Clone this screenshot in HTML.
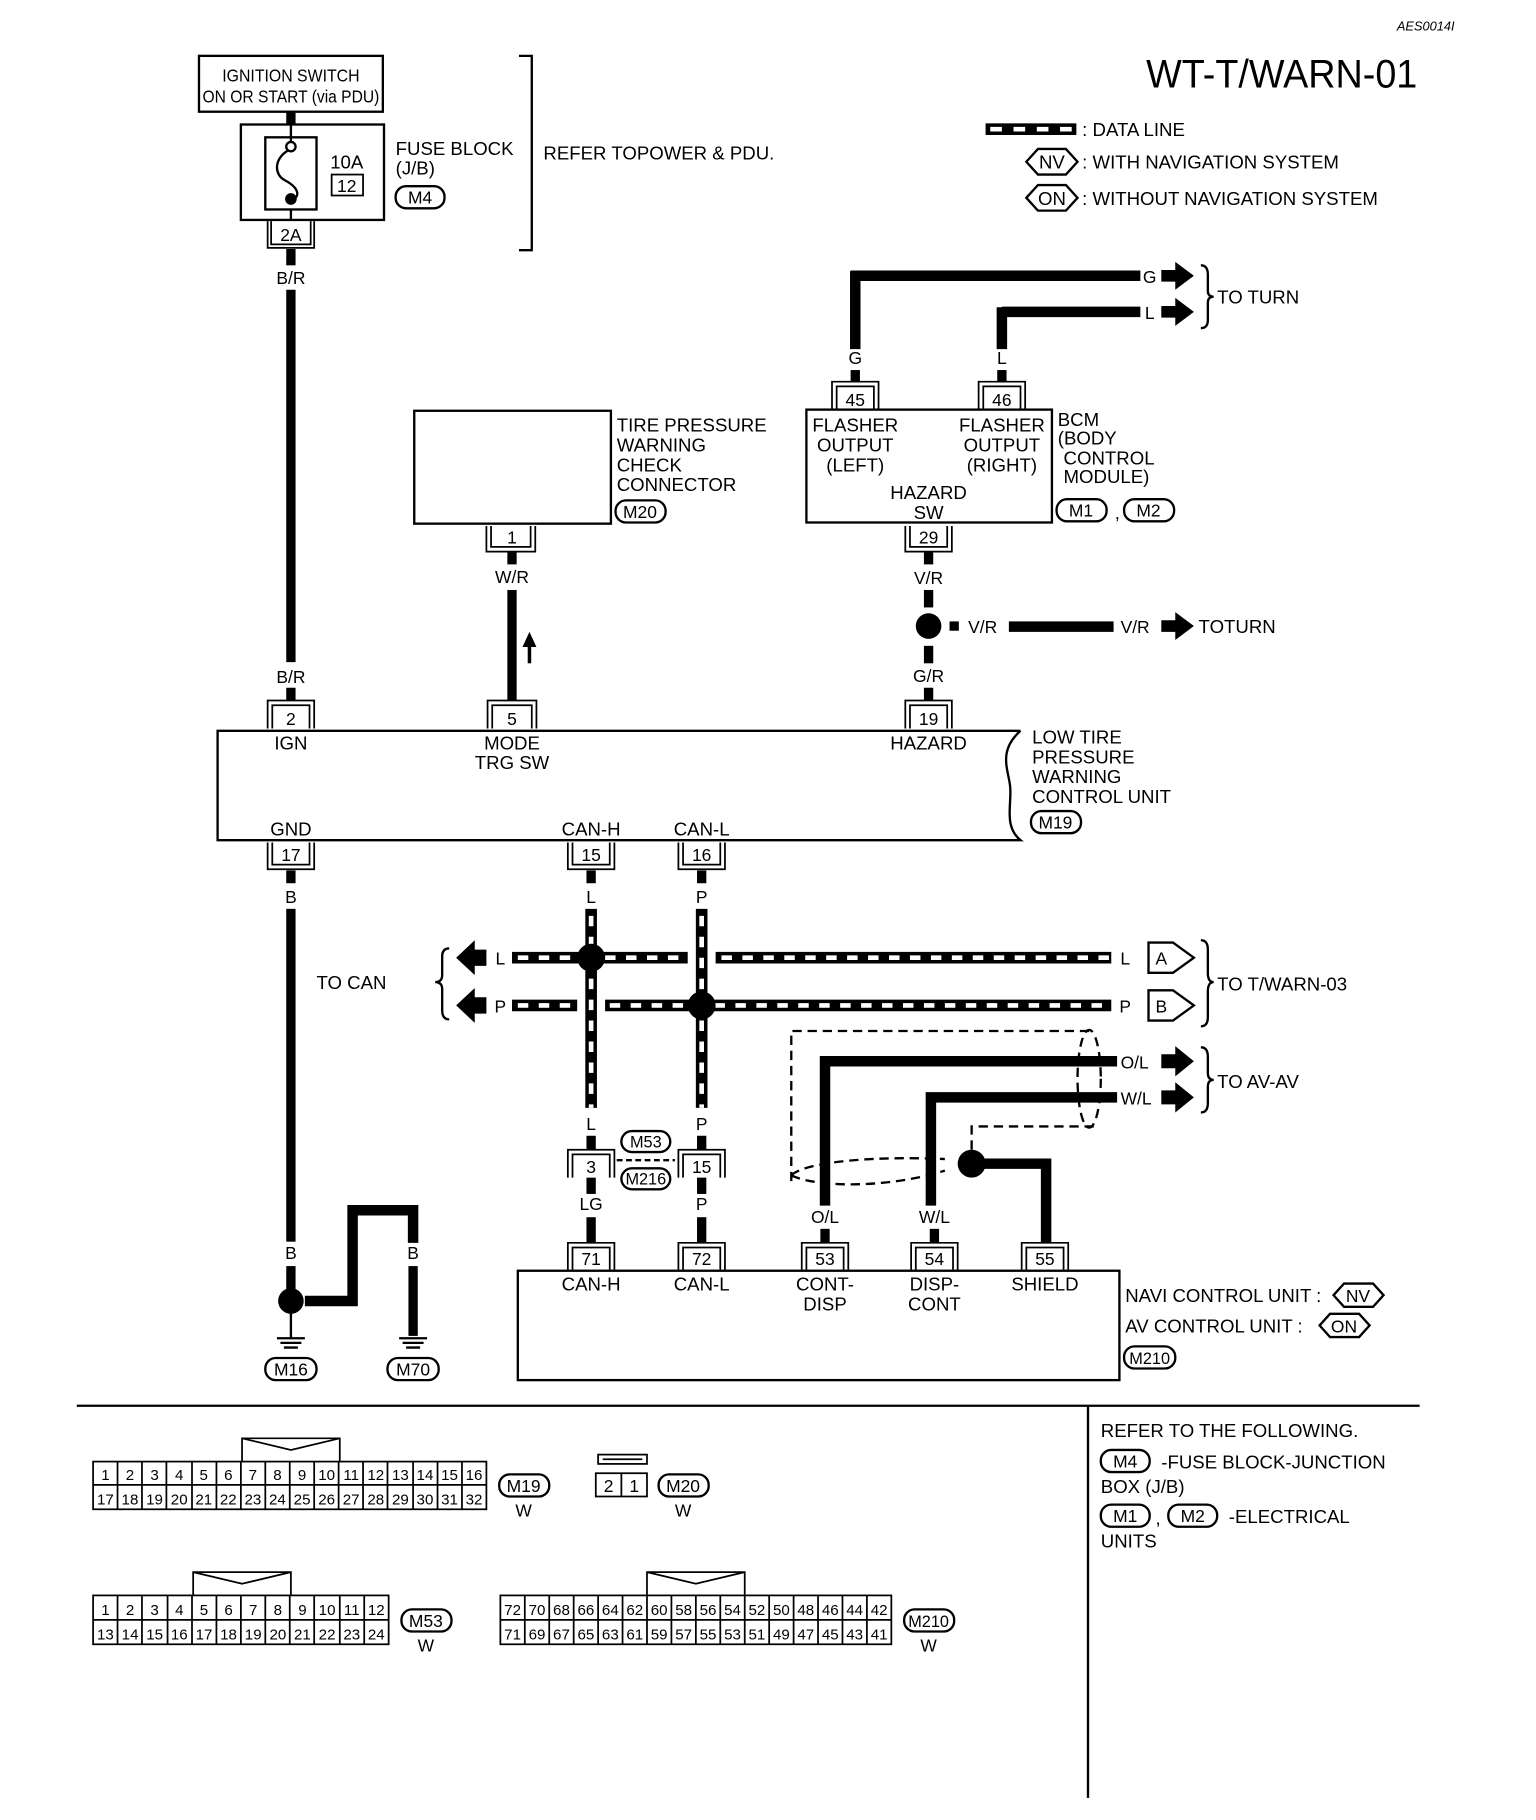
<!DOCTYPE html>
<html><head><meta charset="utf-8"><style>html,body{margin:0;padding:0;background:#fff}svg{display:block}text{font-family:"Liberation Sans",sans-serif;fill:#000}</style></head><body>
<svg width="1536" height="1820" viewBox="0 0 1320 1564" preserveAspectRatio="none" xmlns="http://www.w3.org/2000/svg">
<g font-size="16">
<text x="1250" y="26" font-size="11" font-style="italic" text-anchor="end">AES0014I</text>
<text x="985" y="75" font-size="34" textLength="233" lengthAdjust="spacingAndGlyphs">WT-T/WARN-01</text>

<!-- legend -->
<rect x="847" y="106" width="78" height="10" fill="#000"/><line x1="851" y1="111" x2="921" y2="111" stroke="#fff" stroke-width="4" stroke-dasharray="10,10"/>
<text x="930" y="117">: DATA LINE</text>
<path d="M882,139 L892,128 H916 L926,139 L916,150 H892 Z" fill="none" stroke="#000" stroke-width="2"/><text x="904" y="145" text-anchor="middle">NV</text>
<text x="930" y="145">: WITH NAVIGATION SYSTEM</text>
<path d="M882,170 L892,159 H916 L926,170 L916,181 H892 Z" fill="none" stroke="#000" stroke-width="2"/><text x="904" y="176" text-anchor="middle">ON</text>
<text x="930" y="176">: WITHOUT NAVIGATION SYSTEM</text>

<!-- ignition / fuse -->
<rect x="171" y="48" width="158" height="48" fill="none" stroke="#000" stroke-width="2"/>
<text x="250" y="70" text-anchor="middle" font-size="15" textLength="118" lengthAdjust="spacingAndGlyphs">IGNITION SWITCH</text>
<text x="250" y="88" text-anchor="middle" font-size="15" textLength="152" lengthAdjust="spacingAndGlyphs">ON OR START (via PDU)</text>
<rect x="246" y="96" width="8" height="11" fill="#000"/>
<rect x="207" y="107" width="123" height="82" fill="none" stroke="#000" stroke-width="2"/>
<rect x="228" y="118" width="44" height="62" fill="none" stroke="#000" stroke-width="2"/>
<path d="M250,107 V122 M250,180 V189 M250,128 C235,135 235,150 245,155 C258,162 258,170 250,172" fill="none" stroke="#000" stroke-width="2"/>
<circle cx="250" cy="126" r="4" fill="#fff" stroke="#000" stroke-width="2"/><circle cx="250" cy="171" r="5" fill="#000"/>
<text x="298" y="145" text-anchor="middle">10A</text>
<rect x="285" y="150" width="27" height="18" fill="none" stroke="#000" stroke-width="1.5"/><text x="298" y="165" text-anchor="middle" font-size="15">12</text>
<text x="340" y="133">FUSE BLOCK</text><text x="340" y="150">(J/B)</text>
<rect x="340" y="160" width="42" height="19" rx="9" fill="none" stroke="#000" stroke-width="2"/><text x="361" y="175" text-anchor="middle" font-size="15">M4</text>
<path d="M230,190 V213 H270 V190 M233,190 V210 H267 V190" fill="none" stroke="#000" stroke-width="1.5"/>
<text x="250" y="207" text-anchor="middle" font-size="15">2A</text>
<path d="M446,48 H457 V215 H446" fill="none" stroke="#000" stroke-width="2"/>
<text x="467" y="137">REFER TOPOWER &amp; PDU.</text>

<!-- B/R wire -->
<rect x="246" y="214" width="8" height="14" fill="#000"/>
<text x="250" y="244" text-anchor="middle" font-size="15">B/R</text>
<rect x="246" y="249" width="8" height="320" fill="#000"/>
<text x="250" y="587" text-anchor="middle" font-size="15">B/R</text>
<rect x="246" y="591" width="8" height="11" fill="#000"/>

<!-- tire pressure connector -->
<rect x="356" y="353" width="169" height="97" fill="none" stroke="#000" stroke-width="2"/>
<text x="530" y="371">TIRE PRESSURE</text><text x="530" y="388">WARNING</text><text x="530" y="405">CHECK</text><text x="530" y="422">CONNECTOR</text>
<rect x="529" y="430" width="43" height="19" rx="9" fill="none" stroke="#000" stroke-width="2"/><text x="550" y="445" text-anchor="middle" font-size="15">M20</text>
<path d="M418,452 V474 H460 V452 M422,452 V470 H456 V452" fill="none" stroke="#000" stroke-width="1.5"/>
<text x="440" y="467" text-anchor="middle" font-size="15">1</text>
<rect x="436" y="474" width="8" height="11" fill="#000"/>
<text x="440" y="501" text-anchor="middle" font-size="15">W/R</text>
<rect x="436" y="507" width="8" height="95" fill="#000"/>
<path d="M455,570 V552" stroke="#000" stroke-width="3"/><path d="M449,556 L455,543 L461,556 Z" fill="#000"/>

<!-- BCM -->
<path d="M731,237 H980 M861,268 H980" stroke="#000" stroke-width="9"/>
<path d="M735,233 V300 M861,264 V300" stroke="#000" stroke-width="9"/>
<text x="735" y="313" text-anchor="middle" font-size="15">G</text>
<text x="861" y="313" text-anchor="middle" font-size="15">L</text>
<rect x="731" y="318" width="8" height="10" fill="#000"/><rect x="857" y="318" width="8" height="10" fill="#000"/>
<text x="988" y="243" text-anchor="middle" font-size="15">G</text><text x="988" y="274" text-anchor="middle" font-size="15">L</text>
<path d="M998,232 H1010 V225 L1026,237 L1010,249 V242 H998 Z M998,263 H1010 V256 L1026,268 L1010,280 V273 H998 Z" fill="#000"/>
<path d="M1032,228 Q1038,228 1038,236 V250 Q1038,255 1043,255 Q1038,255 1038,260 V275 Q1038,282 1032,282" fill="none" stroke="#000" stroke-width="2"/>
<text x="1046" y="261">TO TURN</text>
<path d="M715,352 V328 H755 V352 M719,352 V332 H751 V352 M841,352 V328 H881 V352 M845,352 V332 H877 V352" fill="none" stroke="#000" stroke-width="1.5"/>
<text x="735" y="349" text-anchor="middle" font-size="15">45</text><text x="861" y="349" text-anchor="middle" font-size="15">46</text>
<rect x="693" y="352" width="211" height="97" fill="none" stroke="#000" stroke-width="2"/>
<text x="735" y="371" text-anchor="middle">FLASHER</text><text x="735" y="388" text-anchor="middle">OUTPUT</text><text x="735" y="405" text-anchor="middle">(LEFT)</text>
<text x="861" y="371" text-anchor="middle">FLASHER</text><text x="861" y="388" text-anchor="middle">OUTPUT</text><text x="861" y="405" text-anchor="middle">(RIGHT)</text>
<text x="798" y="429" text-anchor="middle">HAZARD</text><text x="798" y="446" text-anchor="middle">SW</text>
<text x="909" y="366">BCM</text><text x="909" y="382">(BODY</text><text x="914" y="399">CONTROL</text><text x="914" y="415">MODULE)</text>
<rect x="908" y="429" width="43" height="19" rx="9" fill="none" stroke="#000" stroke-width="2"/><text x="929" y="444" text-anchor="middle" font-size="15">M1</text>
<text x="958" y="446">,</text>
<rect x="966" y="429" width="43" height="19" rx="9" fill="none" stroke="#000" stroke-width="2"/><text x="987" y="444" text-anchor="middle" font-size="15">M2</text>
<path d="M778,452 V474 H818 V452 M782,452 V470 H814 V452" fill="none" stroke="#000" stroke-width="1.5"/>
<text x="798" y="467" text-anchor="middle" font-size="15">29</text>
<rect x="794" y="474" width="8" height="11" fill="#000"/>
<text x="798" y="502" text-anchor="middle" font-size="15">V/R</text>
<rect x="794" y="507" width="8" height="15" fill="#000"/>
<circle cx="798" cy="538" r="11" fill="#000"/>
<rect x="794" y="555" width="8" height="15" fill="#000"/>
<rect x="816" y="534" width="8" height="8" fill="#000"/>
<text x="832" y="544" font-size="15">V/R</text>
<rect x="867" y="534" width="90" height="9" fill="#000"/>
<text x="963" y="544" font-size="15">V/R</text>
<path d="M998,533 H1010 V526 L1026,538 L1010,550 V543 H998 Z" fill="#000"/>
<text x="1030" y="544">TOTURN</text>
<text x="798" y="586" text-anchor="middle" font-size="15">G/R</text>
<rect x="794" y="591" width="8" height="11" fill="#000"/>

<!-- LTPW unit -->
<path d="M230,626 V602 H270 V626 M234,626 V606 H266 V626 M419,626 V602 H461 V626 M423,626 V606 H457 V626 M778,626 V602 H818 V626 M782,626 V606 H814 V626" fill="none" stroke="#000" stroke-width="1.5"/>
<text x="250" y="623" text-anchor="middle" font-size="15">2</text><text x="440" y="623" text-anchor="middle" font-size="15">5</text><text x="798" y="623" text-anchor="middle" font-size="15">19</text>
<path d="M877,628 H187 V722 H877 C862,710 870,690 868,675 C866,660 858,645 877,628" fill="none" stroke="#000" stroke-width="2"/>
<text x="250" y="644" text-anchor="middle">IGN</text>
<text x="440" y="644" text-anchor="middle">MODE</text><text x="440" y="661" text-anchor="middle">TRG SW</text>
<text x="798" y="644" text-anchor="middle">HAZARD</text>
<text x="250" y="718" text-anchor="middle">GND</text><text x="508" y="718" text-anchor="middle">CAN-H</text><text x="603" y="718" text-anchor="middle">CAN-L</text>
<text x="887" y="639">LOW TIRE</text><text x="887" y="656">PRESSURE</text><text x="887" y="673">WARNING</text><text x="887" y="690">CONTROL UNIT</text>
<rect x="886" y="697" width="43" height="19" rx="9" fill="none" stroke="#000" stroke-width="2"/><text x="907" y="712" text-anchor="middle" font-size="15">M19</text>
<path d="M230,724 V747 H270 V724 M234,724 V743 H266 V724 M488,724 V747 H528 V724 M492,724 V743 H524 V724 M583,724 V747 H623 V724 M587,724 V743 H619 V724" fill="none" stroke="#000" stroke-width="1.5"/>
<text x="250" y="740" text-anchor="middle" font-size="15">17</text><text x="508" y="740" text-anchor="middle" font-size="15">15</text><text x="603" y="740" text-anchor="middle" font-size="15">16</text>

<!-- B wire to ground -->
<rect x="246" y="748" width="8" height="11" fill="#000"/>
<text x="250" y="776" text-anchor="middle" font-size="15">B</text>
<rect x="246" y="781" width="8" height="286" fill="#000"/>
<text x="250" y="1082" text-anchor="middle" font-size="15">B</text>
<rect x="246" y="1088" width="8" height="20" fill="#000"/>
<circle cx="250" cy="1118" r="11" fill="#000"/>
<path d="M250,1128 V1150 M238,1150 H262 M241,1154 H259 M244,1158 H256" stroke="#000" stroke-width="2"/>
<rect x="228" y="1167" width="44" height="19" rx="9" fill="none" stroke="#000" stroke-width="2"/><text x="250" y="1182" text-anchor="middle" font-size="15">M16</text>
<path d="M262,1118 H303 V1040 H355 V1068" fill="none" stroke="#000" stroke-width="9"/>
<text x="303" y="1082" text-anchor="middle" font-size="15">B</text><text x="355" y="1082" text-anchor="middle" font-size="15">B</text>
<rect x="351" y="1088" width="8" height="60" fill="#000"/>
<path d="M343,1150 H367 M346,1154 H364 M349,1158 H361" stroke="#000" stroke-width="2"/>
<rect x="333" y="1167" width="44" height="19" rx="9" fill="none" stroke="#000" stroke-width="2"/><text x="355" y="1182" text-anchor="middle" font-size="15">M70</text>
<text x="272" y="850">TO CAN</text>

<!-- CAN data lines -->
<g>
<rect x="504" y="748" width="8" height="11" fill="#000"/><rect x="599" y="748" width="8" height="11" fill="#000"/>
<text x="508" y="776" text-anchor="middle" font-size="15">L</text><text x="603" y="776" text-anchor="middle" font-size="15">P</text>
<path d="M440,823 H500 M516,823 H591 M615,823 H955 M440,864 H496 M520,864 H955" stroke="#000" stroke-width="10"/>
<path d="M445,823 H500 M520,823 H591 M620,823 H955 M445,864 H496 M524,864 H955" stroke="#fff" stroke-width="4" stroke-dasharray="9,9"/>
<path d="M508,781 V952 M603,781 V952" stroke="#000" stroke-width="10"/>
<path d="M508,787 V952 M603,787 V952" stroke="#fff" stroke-width="4" stroke-dasharray="9,9"/>
<circle cx="508" cy="823" r="12" fill="#000"/><circle cx="603" cy="864" r="12" fill="#000"/>
<path d="M418,816 H408 V808 L392,823 L408,838 V830 H418 Z M418,857 H408 V849 L392,864 L408,879 V871 H418 Z" fill="#000"/>
<text x="430" y="829" text-anchor="middle" font-size="15">L</text><text x="430" y="870" text-anchor="middle" font-size="15">P</text>
<path d="M386,815 Q380,815 380,822 V838 Q380,844 374,844 Q380,844 380,850 V868 Q380,876 386,876" fill="none" stroke="#000" stroke-width="2"/>
<text x="967" y="829" text-anchor="middle" font-size="15">L</text><text x="967" y="870" text-anchor="middle" font-size="15">P</text>
<path d="M987,810 H1008 L1026,823 L1008,836 H987 Z M987,851 H1008 L1026,864 L1008,877 H987 Z" fill="none" stroke="#000" stroke-width="2"/>
<text x="998" y="829" text-anchor="middle" font-size="15">A</text><text x="998" y="870" text-anchor="middle" font-size="15">B</text>
<path d="M1032,808 Q1038,808 1038,816 V836 Q1038,844 1043,844 Q1038,844 1038,852 V874 Q1038,882 1032,882" fill="none" stroke="#000" stroke-width="2"/>
<text x="1046" y="851">TO T/WARN-03</text>
<text x="508" y="971" text-anchor="middle" font-size="15">L</text><text x="603" y="971" text-anchor="middle" font-size="15">P</text>
<rect x="504" y="976" width="8" height="12" fill="#000"/><rect x="599" y="976" width="8" height="12" fill="#000"/>
</g>
<path d="M488,1012 V988 H528 V1012 M492,1012 V992 H524 V1012 M583,1012 V988 H623 V1012 M587,1012 V992 H619 V1012" fill="none" stroke="#000" stroke-width="1.5"/>
<text x="508" y="1008" text-anchor="middle" font-size="15">3</text><text x="603" y="1008" text-anchor="middle" font-size="15">15</text>
<line x1="530" y1="997" x2="580" y2="997" stroke="#000" stroke-width="2" stroke-dasharray="5,3"/>
<rect x="534" y="972" width="42" height="18" rx="9" fill="#fff" stroke="#000" stroke-width="2"/><text x="555" y="986" text-anchor="middle" font-size="14">M53</text>
<rect x="534" y="1004" width="42" height="18" rx="9" fill="#fff" stroke="#000" stroke-width="2"/><text x="555" y="1018" text-anchor="middle" font-size="14">M216</text>
<rect x="504" y="1012" width="8" height="14" fill="#000"/><rect x="599" y="1012" width="8" height="14" fill="#000"/>
<text x="508" y="1040" text-anchor="middle" font-size="15">LG</text><text x="603" y="1040" text-anchor="middle" font-size="15">P</text>
<rect x="504" y="1046" width="8" height="22" fill="#000"/><rect x="599" y="1046" width="8" height="22" fill="#000"/>

<!-- AV lines -->
<path d="M709,1036 V912 H960 M800,1036 V943 H960" fill="none" stroke="#000" stroke-width="9"/>
<path d="M846,1000 H899 V1068" fill="none" stroke="#000" stroke-width="9"/>
<circle cx="835" cy="1000" r="12" fill="#000"/>
<path d="M835,988 V968 H940 M936,886 H680 V1018 M680,1010 C690,1000 740,993 812,996 M680,1010 C700,1020 760,1022 812,1006" fill="none" stroke="#000" stroke-width="2" stroke-dasharray="8,5"/>
<ellipse cx="936" cy="927" rx="10" ry="42" fill="none" stroke="#000" stroke-width="2" stroke-dasharray="8,5"/>
<text x="963" y="918" font-size="15">O/L</text><text x="963" y="949" font-size="15">W/L</text>
<path d="M998,906 H1010 V899 L1026,912 L1010,925 V918 H998 Z M998,937 H1010 V930 L1026,943 L1010,956 V949 H998 Z" fill="#000"/>
<path d="M1032,900 Q1038,900 1038,908 V922 Q1038,928 1043,928 Q1038,928 1038,934 V948 Q1038,956 1032,956" fill="none" stroke="#000" stroke-width="2"/>
<text x="1046" y="935">TO AV-AV</text>
<text x="709" y="1051" text-anchor="middle" font-size="15">O/L</text><text x="803" y="1051" text-anchor="middle" font-size="15">W/L</text>
<rect x="705" y="1056" width="8" height="12" fill="#000"/><rect x="799" y="1056" width="8" height="12" fill="#000"/>

<!-- Navi unit -->
<path d="M488,1091 V1068 H528 V1091 M492,1091 V1072 H524 V1091 M583,1091 V1068 H623 V1091 M587,1091 V1072 H619 V1091 M689,1091 V1068 H729 V1091 M693,1091 V1072 H725 V1091 M783,1091 V1068 H823 V1091 M787,1091 V1072 H819 V1091 M878,1091 V1068 H918 V1091 M882,1091 V1072 H914 V1091" fill="none" stroke="#000" stroke-width="1.5"/>
<text x="508" y="1087" text-anchor="middle" font-size="15">71</text><text x="603" y="1087" text-anchor="middle" font-size="15">72</text><text x="709" y="1087" text-anchor="middle" font-size="15">53</text><text x="803" y="1087" text-anchor="middle" font-size="15">54</text><text x="898" y="1087" text-anchor="middle" font-size="15">55</text>
<rect x="445" y="1092" width="517" height="94" fill="none" stroke="#000" stroke-width="2"/>
<text x="508" y="1109" text-anchor="middle">CAN-H</text><text x="603" y="1109" text-anchor="middle">CAN-L</text>
<text x="709" y="1109" text-anchor="middle">CONT-</text><text x="709" y="1126" text-anchor="middle">DISP</text>
<text x="803" y="1109" text-anchor="middle">DISP-</text><text x="803" y="1126" text-anchor="middle">CONT</text>
<text x="898" y="1109" text-anchor="middle">SHIELD</text>
<text x="967" y="1119">NAVI CONTROL UNIT :</text>
<path d="M1146,1113 L1155,1103 H1180 L1189,1113 L1180,1123 H1155 Z" fill="none" stroke="#000" stroke-width="2"/><text x="1167" y="1119" text-anchor="middle" font-size="15">NV</text>
<text x="967" y="1145">AV CONTROL UNIT :</text>
<path d="M1134,1139 L1143,1129 H1168 L1177,1139 L1168,1149 H1143 Z" fill="none" stroke="#000" stroke-width="2"/><text x="1155" y="1145" text-anchor="middle" font-size="15">ON</text>
<rect x="966" y="1157" width="44" height="19" rx="9" fill="none" stroke="#000" stroke-width="2"/><text x="988" y="1172" text-anchor="middle" font-size="14">M210</text>

<!-- separators -->
<line x1="66" y1="1208" x2="1220" y2="1208" stroke="#000" stroke-width="2"/>
<line x1="935" y1="1208" x2="935" y2="1545" stroke="#000" stroke-width="2"/>
<text x="946" y="1235">REFER TO THE FOLLOWING.</text>
<rect x="946" y="1246" width="42" height="19" rx="9" fill="none" stroke="#000" stroke-width="2"/><text x="967" y="1261" text-anchor="middle" font-size="15">M4</text>
<text x="998" y="1262">-FUSE BLOCK-JUNCTION</text><text x="946" y="1283">BOX (J/B)</text>
<rect x="946" y="1293" width="42" height="19" rx="9" fill="none" stroke="#000" stroke-width="2"/><text x="967" y="1308" text-anchor="middle" font-size="15">M1</text>
<text x="993" y="1310">,</text>
<rect x="1004" y="1293" width="42" height="19" rx="9" fill="none" stroke="#000" stroke-width="2"/><text x="1025" y="1308" text-anchor="middle" font-size="15">M2</text>
<text x="1056" y="1309">-ELECTRICAL</text><text x="946" y="1330">UNITS</text>
</g>

<!-- M19 grid -->
<g font-size="13" text-anchor="middle" stroke-width="1.5">
<path d="M208,1256 V1236 H292 V1256 M208,1236 L250,1246 L292,1236" fill="none" stroke="#000"/>
<rect x="80" y="1256" width="338" height="41" fill="none" stroke="#000"/>
<line x1="80" y1="1276" x2="418" y2="1276" stroke="#000"/>
<path d="M101,1256V1297M122,1256V1297M143,1256V1297M165,1256V1297M186,1256V1297M207,1256V1297M228,1256V1297M249,1256V1297M270,1256V1297M291,1256V1297M312,1256V1297M333,1256V1297M355,1256V1297M376,1256V1297M397,1256V1297" stroke="#000"/>
<text x="90.6" y="1272">1</text><text x="111.7" y="1272">2</text><text x="132.8" y="1272">3</text><text x="154" y="1272">4</text><text x="175.1" y="1272">5</text><text x="196.2" y="1272">6</text><text x="217.3" y="1272">7</text><text x="238.4" y="1272">8</text><text x="259.6" y="1272">9</text><text x="280.7" y="1272">10</text><text x="301.8" y="1272">11</text><text x="322.9" y="1272">12</text><text x="344.1" y="1272">13</text><text x="365.2" y="1272">14</text><text x="386.3" y="1272">15</text><text x="407.4" y="1272">16</text>
<text x="90.6" y="1293">17</text><text x="111.7" y="1293">18</text><text x="132.8" y="1293">19</text><text x="154" y="1293">20</text><text x="175.1" y="1293">21</text><text x="196.2" y="1293">22</text><text x="217.3" y="1293">23</text><text x="238.4" y="1293">24</text><text x="259.6" y="1293">25</text><text x="280.7" y="1293">26</text><text x="301.8" y="1293">27</text><text x="322.9" y="1293">28</text><text x="344.1" y="1293">29</text><text x="365.2" y="1293">30</text><text x="386.3" y="1293">31</text><text x="407.4" y="1293">32</text>
<rect x="429" y="1267" width="43" height="19" rx="9" fill="none" stroke="#000" stroke-width="2"/><text x="450" y="1282" font-size="15">M19</text><text x="450" y="1303" font-size="15">W</text>

<!-- M20 -->
<rect x="514" y="1250" width="42" height="8" fill="none" stroke="#000"/><line x1="518" y1="1254" x2="552" y2="1254" stroke="#000"/>
<rect x="512" y="1266" width="44" height="20" fill="none" stroke="#000"/><line x1="534" y1="1266" x2="534" y2="1286" stroke="#000"/>
<text x="523" y="1282" font-size="15">2</text><text x="545" y="1282" font-size="15">1</text>
<rect x="566" y="1267" width="43" height="19" rx="9" fill="none" stroke="#000" stroke-width="2"/><text x="587" y="1282" font-size="15">M20</text><text x="587" y="1303" font-size="15">W</text>

<!-- M53 -->
<path d="M166,1371 V1351 H250 V1371 M166,1351 L208,1361 L250,1351" fill="none" stroke="#000"/>
<rect x="80" y="1371" width="254" height="42" fill="none" stroke="#000"/>
<line x1="80" y1="1392" x2="334" y2="1392" stroke="#000"/>
<path d="M101,1371V1413M122,1371V1413M144,1371V1413M165,1371V1413M186,1371V1413M207,1371V1413M228,1371V1413M249,1371V1413M270,1371V1413M292,1371V1413M313,1371V1413" stroke="#000"/>
<text x="90.6" y="1388">1</text><text x="111.8" y="1388">2</text><text x="132.9" y="1388">3</text><text x="154.1" y="1388">4</text><text x="175.3" y="1388">5</text><text x="196.4" y="1388">6</text><text x="217.6" y="1388">7</text><text x="238.8" y="1388">8</text><text x="259.9" y="1388">9</text><text x="281.1" y="1388">10</text><text x="302.3" y="1388">11</text><text x="323.4" y="1388">12</text>
<text x="90.6" y="1409">13</text><text x="111.8" y="1409">14</text><text x="132.9" y="1409">15</text><text x="154.1" y="1409">16</text><text x="175.3" y="1409">17</text><text x="196.4" y="1409">18</text><text x="217.6" y="1409">19</text><text x="238.8" y="1409">20</text><text x="259.9" y="1409">21</text><text x="281.1" y="1409">22</text><text x="302.3" y="1409">23</text><text x="323.4" y="1409">24</text>
<rect x="345" y="1383" width="43" height="19" rx="9" fill="none" stroke="#000" stroke-width="2"/><text x="366" y="1398" font-size="15">M53</text><text x="366" y="1419" font-size="15">W</text>

<!-- M210 -->
<path d="M556,1371 V1351 H640 V1371 M556,1351 L598,1361 L640,1351" fill="none" stroke="#000"/>
<rect x="430" y="1371" width="336" height="42" fill="none" stroke="#000"/>
<line x1="430" y1="1392" x2="766" y2="1392" stroke="#000"/>
<path d="M451,1371V1413M472,1371V1413M493,1371V1413M514,1371V1413M535,1371V1413M556,1371V1413M577,1371V1413M598,1371V1413M619,1371V1413M640,1371V1413M661,1371V1413M682,1371V1413M703,1371V1413M724,1371V1413M745,1371V1413" stroke="#000"/>
<text x="440.5" y="1388">72</text><text x="461.5" y="1388">70</text><text x="482.5" y="1388">68</text><text x="503.5" y="1388">66</text><text x="524.5" y="1388">64</text><text x="545.5" y="1388">62</text><text x="566.5" y="1388">60</text><text x="587.5" y="1388">58</text><text x="608.5" y="1388">56</text><text x="629.5" y="1388">54</text><text x="650.5" y="1388">52</text><text x="671.5" y="1388">50</text><text x="692.5" y="1388">48</text><text x="713.5" y="1388">46</text><text x="734.5" y="1388">44</text><text x="755.5" y="1388">42</text>
<text x="440.5" y="1409">71</text><text x="461.5" y="1409">69</text><text x="482.5" y="1409">67</text><text x="503.5" y="1409">65</text><text x="524.5" y="1409">63</text><text x="545.5" y="1409">61</text><text x="566.5" y="1409">59</text><text x="587.5" y="1409">57</text><text x="608.5" y="1409">55</text><text x="629.5" y="1409">53</text><text x="650.5" y="1409">51</text><text x="671.5" y="1409">49</text><text x="692.5" y="1409">47</text><text x="713.5" y="1409">45</text><text x="734.5" y="1409">43</text><text x="755.5" y="1409">41</text>
<rect x="777" y="1383" width="43" height="19" rx="9" fill="none" stroke="#000" stroke-width="2"/><text x="798" y="1398" font-size="14">M210</text><text x="798" y="1419" font-size="15">W</text>
</g>
</svg>
</body></html>
